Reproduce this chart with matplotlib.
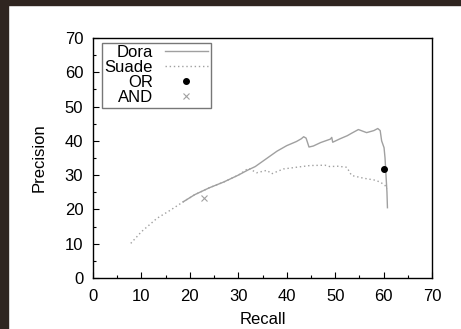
import matplotlib
matplotlib.use("Agg")
import matplotlib.pyplot as plt
from matplotlib.patches import Rectangle
from matplotlib.ticker import MultipleLocator

plt.rcParams['font.family'] = ['Liberation Sans', 'DejaVu Sans']

# precision / recall curves
dora_recall = [18.6, 21.0, 24.0, 27.0, 30.0, 32.0, 33.5, 36.0, 38.0, 40.0, 42.0, 43.0, 43.5,
               44.0, 44.6, 45.5, 47.0, 49.0, 49.3, 49.5, 51.0, 52.5, 53.5, 54.8, 56.5, 58.0,
               58.8, 59.3, 59.6, 60.1, 60.3, 60.5, 60.7, 60.8]
dora_precision = [22.2, 24.3, 26.3, 28.0, 30.0, 31.5, 32.5, 35.0, 37.0, 38.6, 39.8, 40.6, 41.2,
                  40.8, 38.2, 38.5, 39.5, 40.5, 41.0, 39.6, 40.6, 41.5, 42.3, 43.3, 42.4, 43.0,
                  43.6, 43.0, 40.0, 38.0, 35.0, 30.0, 25.0, 20.5]

suade_recall = [7.8, 10.0, 13.2, 16.0, 18.6, 21.0, 24.0, 27.0, 30.0, 32.1, 33.8, 35.9, 36.9,
                39.3, 42.0, 44.8, 47.9, 48.9, 50.5, 52.4, 53.4, 55.9, 58.0, 59.3, 60.3, 60.7]
suade_precision = [10.1, 13.5, 17.4, 19.8, 22.2, 24.3, 26.3, 28.0, 30.0, 32.0, 30.7, 31.4, 30.4,
                   31.8, 32.3, 32.8, 32.9, 32.5, 32.6, 32.3, 29.9, 29.1, 28.6, 28.0, 27.0, 26.0]

or_point = (60.0, 31.9)
and_point = (22.9, 23.2)

fs = 12

fig = plt.figure(figsize=(4.61, 3.29), dpi=100)
fig.patch.set_facecolor('white')

# dark frame around the white panel
fig.patches.append(Rectangle((0, 0), 8 / 461, 1, transform=fig.transFigure,
                             color='#2f2520', zorder=-10))
fig.patches.append(Rectangle((0, 1 - 5 / 329), 1, 5 / 329, transform=fig.transFigure,
                             color='#2f2520', zorder=-10))

ax = fig.add_axes([93 / 461, 1 - 278 / 329, (432 - 93) / 461, (278 - 38) / 329])

ax.plot(dora_recall, dora_precision, color='#a0a0a0', lw=1.0, label='Dora')
ax.plot(suade_recall, suade_precision, color='#a0a0a0', lw=1.0, ls=(0, (1, 2)), label='Suade')
ax.plot(*or_point, 'o', color='black', ms=4, label='OR')
ax.plot(*and_point, 'x', color='#a0a0a0', ms=5, mew=0.8, label='AND')

ax.set_xlim(0, 70)
ax.set_ylim(0, 70)
ax.xaxis.set_major_locator(MultipleLocator(10))
ax.yaxis.set_major_locator(MultipleLocator(10))
ax.xaxis.set_minor_locator(MultipleLocator(5))
ax.yaxis.set_minor_locator(MultipleLocator(5))
ax.tick_params(which='both', direction='in', top=False, right=False, labelsize=fs)
ax.tick_params(axis='x', pad=8)
ax.tick_params(axis='y', pad=7)
ax.tick_params(which='major', length=4, width=0.8)
ax.tick_params(which='minor', length=2, width=0.8)
for s in ax.spines.values():
    s.set_linewidth(1.0)

ax.set_xlabel('Recall', fontsize=fs, labelpad=6)
ax.set_ylabel('Precision', fontsize=fs, labelpad=13)

leg = ax.legend(loc='upper left', bbox_to_anchor=(0.027, 0.98), frameon=True, fancybox=False,
                edgecolor='#555555', fontsize=fs, markerfirst=False, handlelength=2.6,
                labelspacing=0.0, borderpad=0.15, handletextpad=0.7, borderaxespad=0)
leg.get_frame().set_linewidth(1.0)
for t in leg.get_texts():
    t.set_ha('right')
    t.set_position((0, 0))

fig.savefig('out.png', dpi=100)
